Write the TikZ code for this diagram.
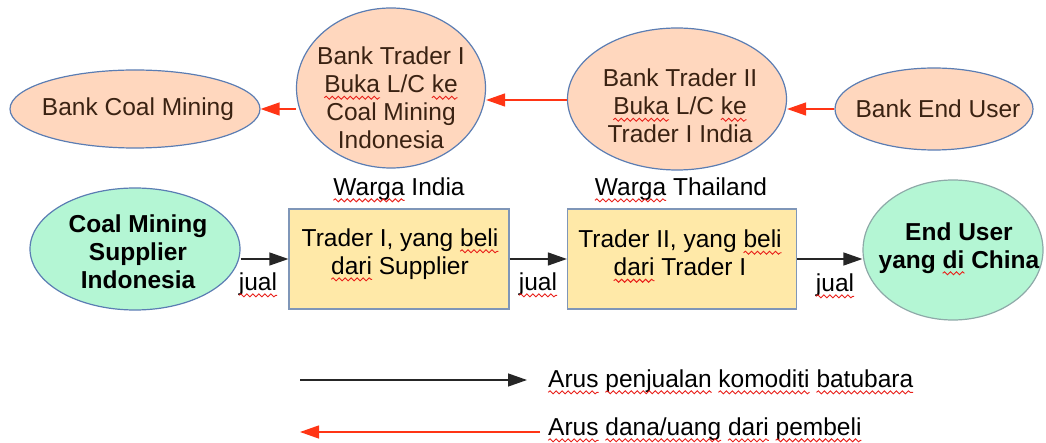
\documentclass[tikz,border=0pt]{standalone}
\usepackage{fontspec}
\setmainfont{Liberation Sans}
\usetikzlibrary{shapes.geometric,arrows.meta,decorations.pathmorphing}
\definecolor{squig}{HTML}{E8201A}
\definecolor{peach}{HTML}{FFD7BE}
\definecolor{ebord}{HTML}{5B7DB3}
\definecolor{mint}{HTML}{B4F6D4}
\definecolor{gbord}{HTML}{8EA9A8}
\definecolor{boxfill}{HTML}{FFE9A8}
\definecolor{boxbord}{HTML}{7F96B8}
\definecolor{brown}{HTML}{3A2212}
\definecolor{redarrow}{HTML}{FF3515}
\newsavebox\sqbox
\newlength\sqw
\newcommand\sq[1]{\sbox\sqbox{#1}\setlength\sqw{\wd\sqbox}\leavevmode\rlap{\usebox\sqbox}\tikz[baseline=0pt,x=1pt,y=1pt]{\useasboundingbox (0pt,0pt) rectangle (\sqw,0pt);\draw[squig,line width=0.9pt,decorate,decoration={snake,amplitude=1.5pt,segment length=6pt}] (0pt,-5pt) -- (\sqw,-5pt);}}
\tikzset{
  bigfont/.style={font=\fontsize{24.5}{28}\selectfont},
  peachell/.style={ellipse, draw=ebord, fill=peach, line width=1.2pt, inner sep=0pt},
  mintell/.style={ellipse, fill=mint, line width=1.2pt, inner sep=0pt},
  tradebox/.style={rectangle, draw=boxbord, fill=boxfill, line width=1.2pt, inner sep=0pt},
  txt/.style={bigfont, align=center, inner sep=0pt},
  btxt/.style={txt, font=\fontsize{24.5}{28}\selectfont\bfseries},
  sell/.style={draw=black!85, line width=1.3pt, -{Triangle[length=19pt,width=13pt]}},
  pay/.style={draw=redarrow, line width=1.3pt, -{Triangle[length=19pt,width=13pt]}},
}
\begin{document}
\begin{tikzpicture}[x=1pt,y=-1pt]
\useasboundingbox (0,0) rectangle (1046,443);
% top row: banks
\node[peachell, minimum width=250pt, minimum height=78pt] (bcm) at (135,109) {};
\node[txt, text=brown] (bcmt) at (138,109) {Bank Coal Mining};
\node[peachell, minimum width=189pt, minimum height=160pt] (bt1) at (391,88) {};
\node[txt, text=brown] (bt1t) at (391,98) {Bank Trader I\\\sq{Buka} L/C \sq{ke}\\Coal Mining\\Indonesia};
\node[peachell, minimum width=219pt, minimum height=142pt] (bt2) at (677,99) {};
\node[txt, text=brown] (bt2t) at (680,106) {Bank Trader II\\\sq{Buka} L/C \sq{ke}\\Trader I India};
\node[peachell, minimum width=198pt, minimum height=82pt] (beu) at (934,109) {};
\node[txt, text=brown] (beut) at (938,109) {Bank End User};
% red arrows
\draw[pay] (beu.west) -- (beu.west -| bt2.east);
\draw[pay] (bt2.west |- 0,100) -- (bt1.east |- 0,100);
\draw[pay] (bt1.west |- 0,109) -- (bcm.east);
% citizenship labels
\node[txt] (wi) at (399,189) {\sq{Warga} India};
\node[txt] (wt) at (681,189) {\sq{Warga} Thailand};
% bottom row
\node[mintell, draw=ebord, minimum width=210pt, minimum height=122pt] (sup) at (135,249) {};
\node[btxt] (supt) at (138,252) {Coal Mining\\Supplier\\Indonesia};
\node[tradebox, minimum width=220pt, minimum height=100pt] (t1) at (399,259) {};
\node[txt] (t1t) at (400,254) {Trader I, yang \sq{beli}\\\sq{dari} Supplier};
\node[tradebox, minimum width=229pt, minimum height=100pt] (t2) at (682,259) {};
\node[txt] (t2t) at (680,253) {Trader II, yang \sq{beli}\\\sq{dari} Trader I};
\node[mintell, draw=gbord, minimum width=180pt, minimum height=140pt] (eu) at (953,250) {};
\node[btxt] (eut) at (959,248) {End User\\yang \sq{di} China};
% black arrows
\draw[sell] (sup.east |- 0,259) -- (t1.west);
\draw[sell] (t1.east) -- (t2.west);
\draw[sell] (t2.east) -- (eu.west |- 0,259);
\node[txt] (j1) at (258,284) {\sq{jual}};
\node[txt] (j2) at (538,284) {\sq{jual}};
\node[txt] (j3) at (835,285) {\sq{jual}};
% legend
\coordinate (l1a) at (300,380);
\coordinate (l1b) at (527,380);
\coordinate (l2a) at (540,432);
\coordinate (l2b) at (300,432);
\draw[sell] (l1a) -- (l1b);
\draw[pay] (l2a) -- (l2b);
\node[txt, anchor=west] (lt1) at (548,381) {\sq{Arus} \sq{penjualan} \sq{komoditi} \sq{batubara}};
\node[txt, anchor=west] (lt2) at (548,429) {\sq{Arus} \sq{dana/uang} \sq{dari} \sq{pembeli}};
\end{tikzpicture}
\end{document}
